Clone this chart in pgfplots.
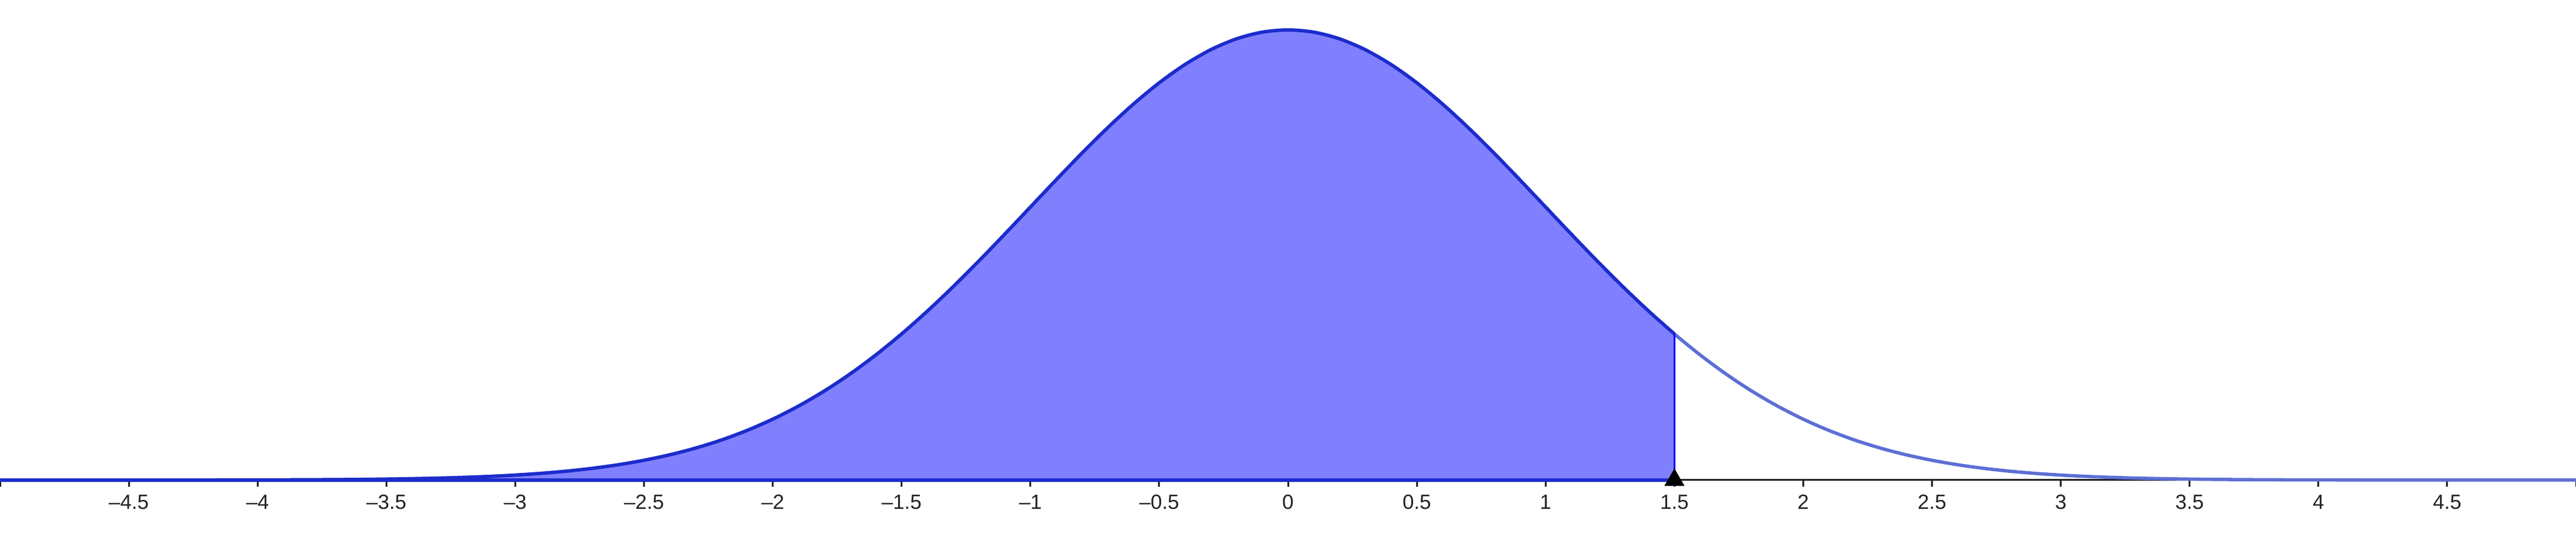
\documentclass[border=0pt]{standalone}
\usepackage{pgfplots}
\pgfplotsset{compat=1.18}
\usepackage{pgfplotstable}
\usepackage{fontspec}
\setmainfont{Liberation Sans}

\definecolor{areafill}{HTML}{8080FF}
\definecolor{curvelight}{HTML}{5C6FD6}
\definecolor{curvedark}{HTML}{1C2CCC}
\definecolor{ticktext}{HTML}{222222}

% standard normal density
\pgfplotstableread{
x y
-5.0 0.0000015
-4.5 0.000016
-4.0 0.000134
-3.9 0.000199
-3.8 0.000292
-3.7 0.000425
-3.6 0.000612
-3.5 0.000873
-3.4 0.001232
-3.3 0.001723
-3.2 0.002384
-3.1 0.003267
-3.0 0.004432
-2.9 0.005953
-2.8 0.007915
-2.7 0.010421
-2.6 0.013583
-2.5 0.017528
-2.4 0.022395
-2.3 0.028327
-2.2 0.035475
-2.1 0.043984
-2.0 0.053991
-1.9 0.065616
-1.8 0.078950
-1.7 0.094049
-1.6 0.110921
-1.5 0.129518
-1.4 0.149727
-1.3 0.171369
-1.2 0.194186
-1.1 0.217852
-1.0 0.241971
-0.9 0.266085
-0.8 0.289692
-0.7 0.312254
-0.6 0.333225
-0.5 0.352065
-0.4 0.368270
-0.3 0.381388
-0.2 0.391043
-0.1 0.396953
0.0 0.398942
0.1 0.396953
0.2 0.391043
0.3 0.381388
0.4 0.368270
0.5 0.352065
0.6 0.333225
0.7 0.312254
0.8 0.289692
0.9 0.266085
1.0 0.241971
1.1 0.217852
1.2 0.194186
1.3 0.171369
1.4 0.149727
1.5 0.129518
1.6 0.110921
1.7 0.094049
1.8 0.078950
1.9 0.065616
2.0 0.053991
2.1 0.043984
2.2 0.035475
2.3 0.028327
2.4 0.022395
2.5 0.017528
2.6 0.013583
2.7 0.010421
2.8 0.007915
2.9 0.005953
3.0 0.004432
3.1 0.003267
3.2 0.002384
3.3 0.001723
3.4 0.001232
3.5 0.000873
3.6 0.000612
3.7 0.000425
3.8 0.000292
3.9 0.000199
4.0 0.000134
4.5 0.000016
5.0 0.0000015
}\densitytable

\pgfplotstableread{
x y
1.5 0
}\marktable

\begin{document}
\begin{tikzpicture}
\begin{axis}[
    scale only axis,
    width=30cm,
    height=6.255cm,
    xmin=-5, xmax=5,
    ymin=-0.0504, ymax=0.4255,
    axis x line=middle,
    axis y line=none,
    axis line style={ticktext, line width=0.6pt, -},
    xtick={-5,-4.5,-4,-3.5,-3,-2.5,-2,-1.5,-1,-0.5,0,0.5,1,1.5,2,2.5,3,3.5,4,4.5,5},
    xticklabels={,–4.5,–4,–3.5,–3,–2.5,–2,–1.5,–1,–0.5,0,0.5,1,1.5,2,2.5,3,3.5,4,4.5,},
    tick align=outside,
    major tick length=2.2pt,
    tick style={ticktext, line width=0.6pt},
    xticklabel style={font=\fontsize{6.8}{7.5}\selectfont, text=ticktext, yshift=0.8pt},
    clip=false,
]
% shaded area up to x = 1.5
\addplot[draw=none, fill=areafill, restrict x to domain=-5:1.5]
    table[x=x, y=y] {\densitytable} \closedcycle;
% full curve
\addplot[curvelight, line width=1.1pt, smooth]
    table[x=x, y=y] {\densitytable};
% outline of the shaded area
\addplot[curvedark, line width=1.1pt, smooth, restrict x to domain=-5:1.5]
    table[x=x, y=y] {\densitytable};
\addplot[curvedark, line width=1.1pt] coordinates {(-5,0) (1.5,0)};
\addplot[blue, line width=0.5pt] coordinates {(1.5,0) (1.5,0.129518)};
% point on the axis
\addplot[only marks, mark=triangle*, mark size=3.46pt, mark options={black}]
    table[x=x, y=y] {\marktable};
\end{axis}
\pgfresetboundingbox
\path (current axis.south west) rectangle (current axis.north east);
\end{tikzpicture}
\end{document}
